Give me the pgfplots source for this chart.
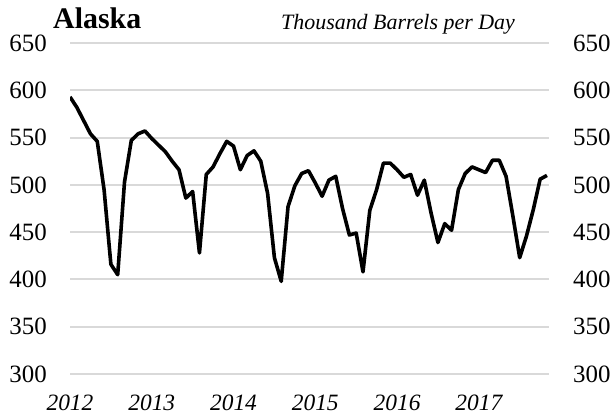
\documentclass[border=0pt]{standalone}
\usepackage{fontspec}
\setmainfont{Liberation Serif}
\usepackage{pgfplots}
\pgfplotsset{compat=1.18}
\definecolor{gridgray}{HTML}{D9D9D9}

% Alaska crude production, thousand barrels per day, Jan 2012 (m=0) .. Nov 2017
\pgfplotstableread{
m val
0 593
1 582
2 568
3 554
4 546
5 495
6 416
7 405
8 503
9 547
10 554
11 557
12 549
13 542
14 535
15 525
16 516
17 486
18 493
19 428
20 511
21 519
22 533
23 546
24 541
25 516
26 531
27 536
28 525
29 491
30 423
31 398
32 477
33 499
34 512
35 515
36 502
37 488
38 505
39 509
40 475
41 447
42 449
43 408
44 473
45 495
46 523
47 523
48 516
49 508
50 511
51 489
52 505
53 470
54 439
55 459
56 452
57 495
58 512
59 519
60 516
61 513
62 526
63 526
64 509
65 467
66 423
67 446
68 474
69 506
70 510
}\alaska

\pgfplotsset{
  base/.style={
    at={(70bp,46bp)}, anchor=south west,
    scale only axis, width=479bp, height=331bp,
    xmin=0, xmax=70.3, ymin=300, ymax=650,
    ytick={300,350,...,650},
    axis line style={draw=none},
    major tick length=0pt,
    /pgf/number format/assume math mode=true,
    yticklabel style={inner sep=0pt, font=\fontsize{25}{28}\selectfont},
  }
}

\begin{document}
\begin{tikzpicture}
\useasboundingbox (0,0) rectangle (612bp,420bp);
\begin{axis}[base,
    ymajorgrids,
    major grid style={gridgray, line width=2bp},
    xtick={0,12,24,36,48,60},
    xticklabels={2012,2013,2014,2015,2016,2017},
    xticklabel style={anchor=north, inner sep=0pt, yshift=-21bp,
      font=\itshape\fontsize{23.5}{26}\selectfont},
    yticklabel style={anchor=east, xshift=-23bp},
  ]
  \addplot[black, line width=3.6bp, line join=round, mark=none] table[x=m, y=val] {\alaska};
\end{axis}
\begin{axis}[base,
    xtick=\empty,
    yticklabel pos=right,
    yticklabel style={anchor=west, xshift=24bp},
  ]
  \addplot[draw=none] coordinates {(0,300)};
\end{axis}
\node[anchor=base west, inner sep=0pt, font=\bfseries\fontsize{30}{34}\selectfont] at (53bp,391bp) {Alaska};
\node[anchor=base east, inner sep=0pt, font=\itshape\fontsize{22}{26}\selectfont] at (515bp,390bp) {Thousand Barrels per Day};
\end{tikzpicture}
\end{document}
